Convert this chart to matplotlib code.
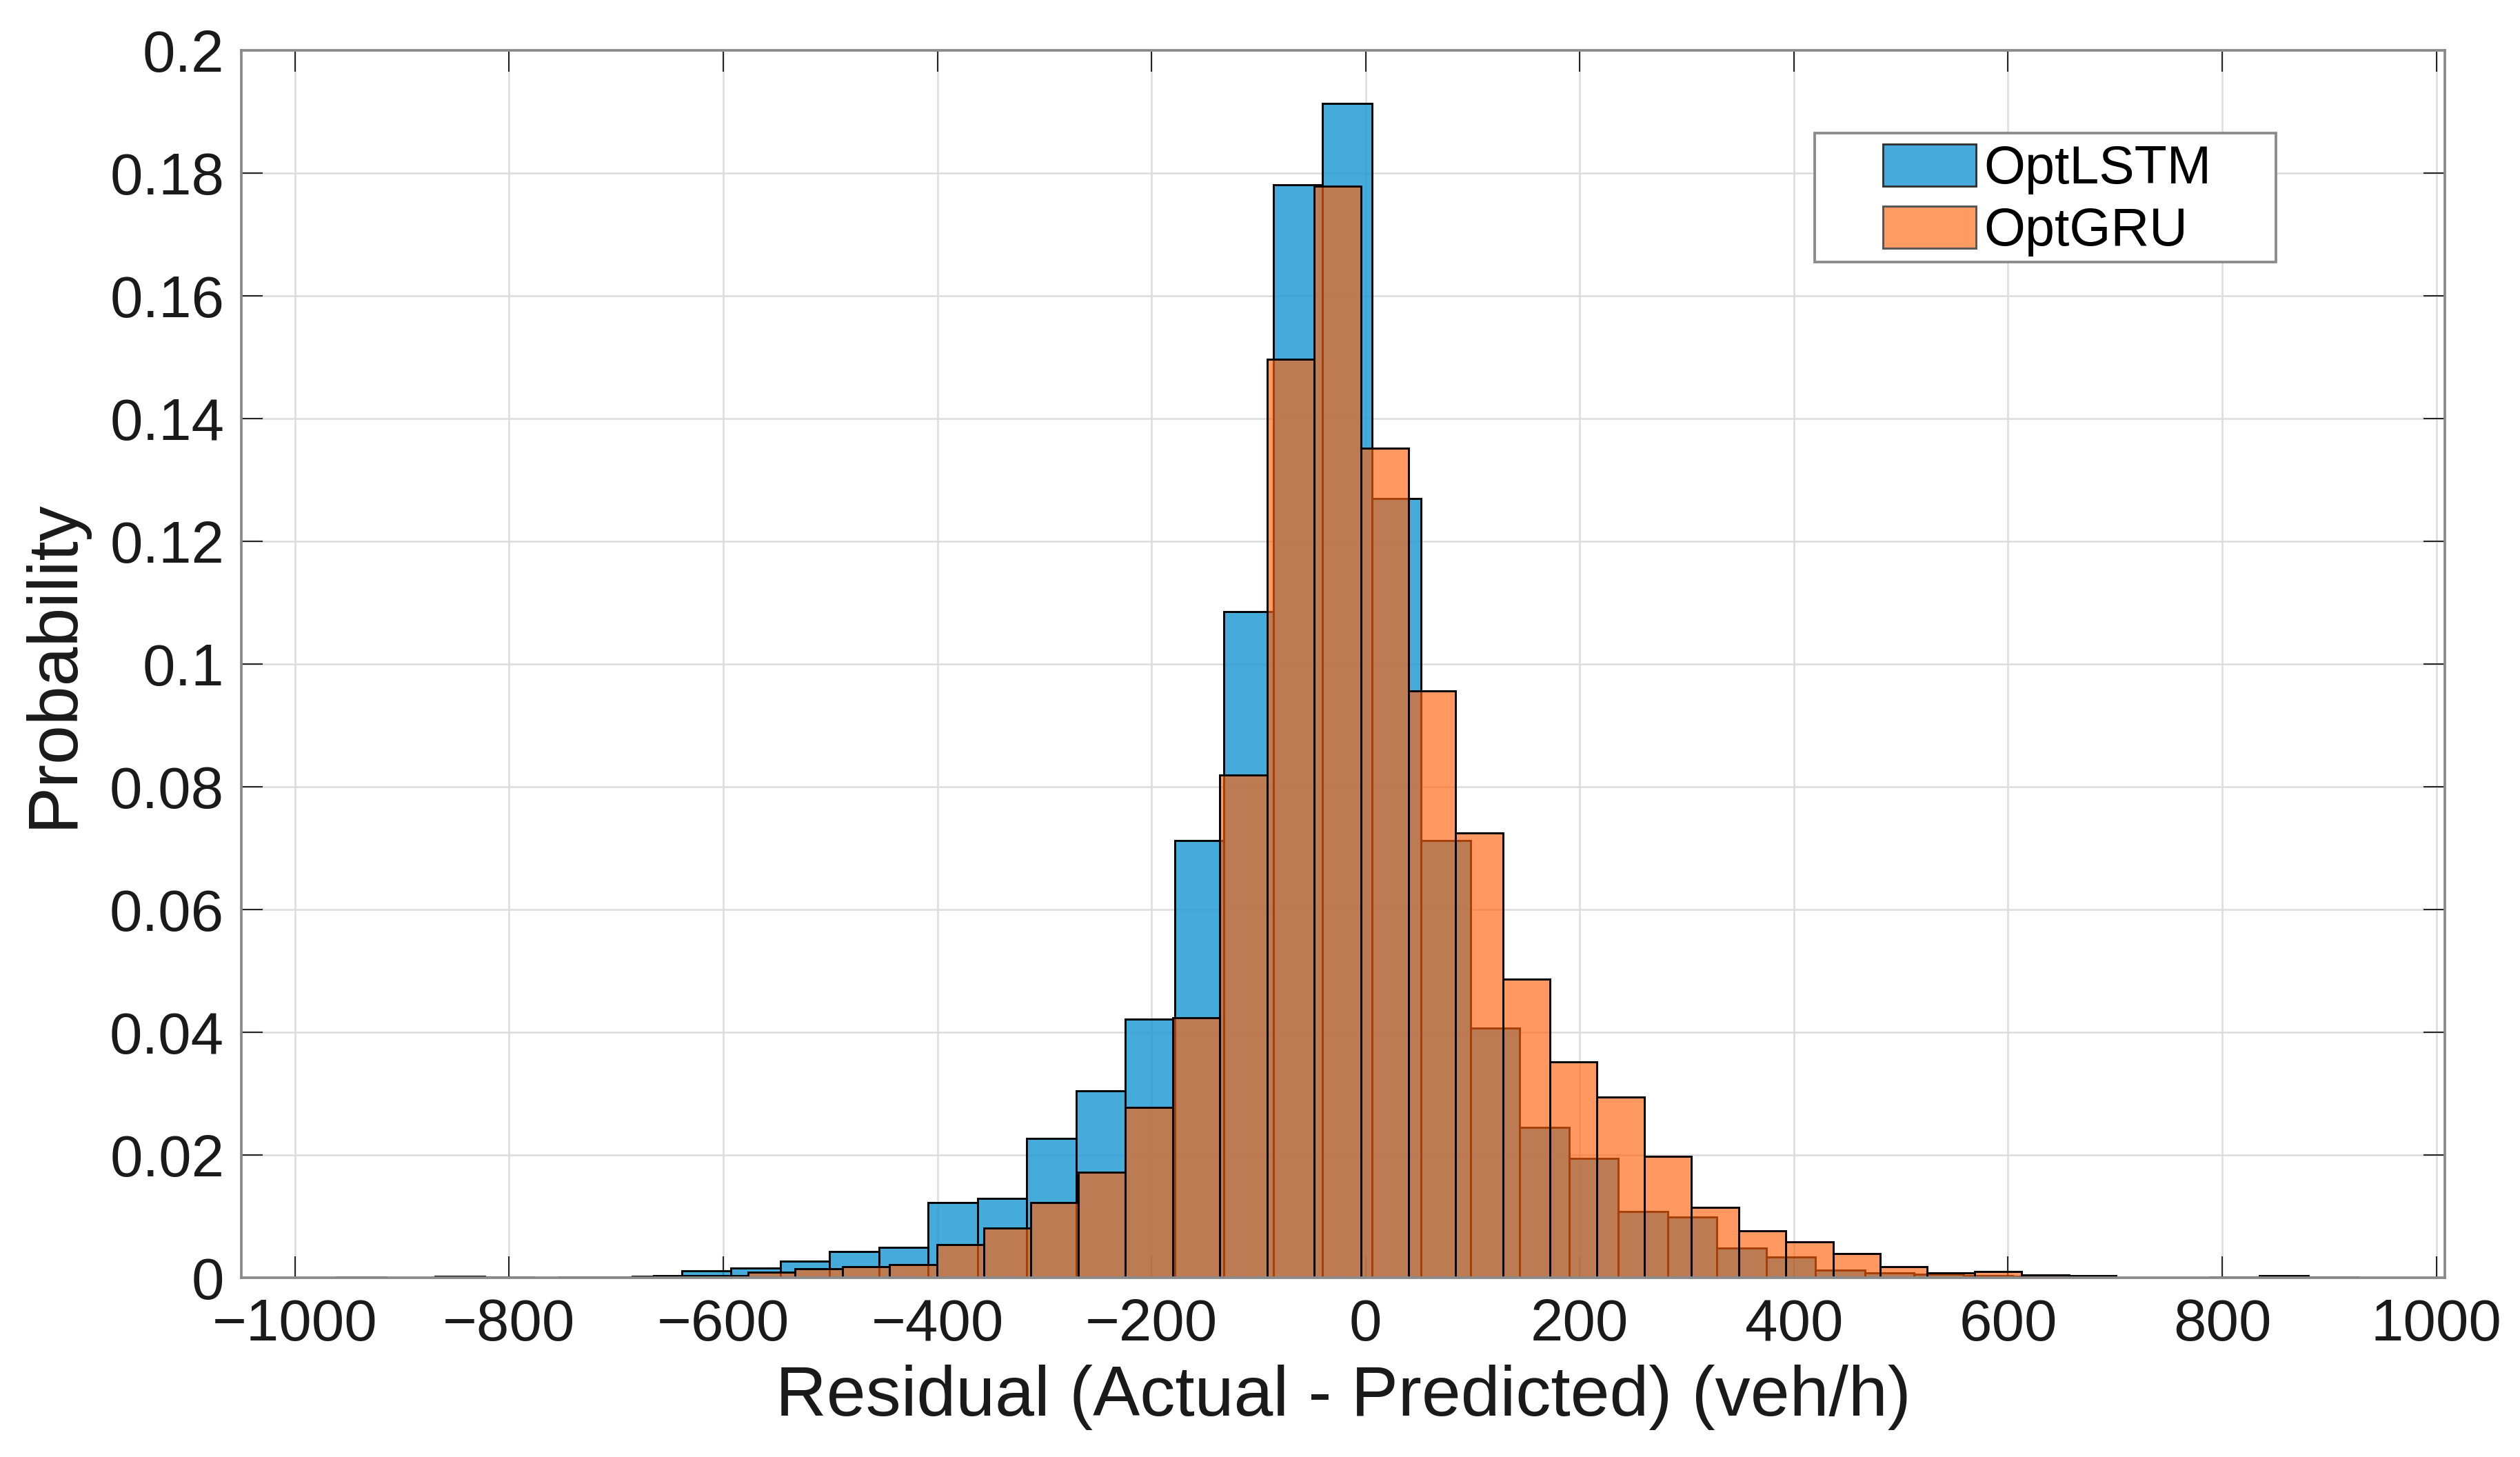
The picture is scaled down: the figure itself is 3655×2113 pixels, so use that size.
import numpy as np
import matplotlib
matplotlib.use("Agg")
import matplotlib.pyplot as plt
from matplotlib.patches import Patch, Rectangle

# ---------------- data ----------------
lstm_edges = [-961.0, -915.0, -868.9, -822.9, -776.8, -730.8, -684.8, -638.7, -592.7,
              -546.6, -500.6, -454.6, -408.5, -362.5, -316.4, -270.4, -224.4, -178.3,
              -132.3, -86.2, -40.2, 5.8, 51.9, 97.9, 143.9, 190.0, 236.0, 282.1, 328.1,
              374.2, 420.2, 466.2, 512.3, 558.3, 604.4, 650.4, 696.4, 742.5, 788.5,
              834.6, 880.6, 926.6]
lstm_prob = [0.0001, 0.0, 0.0002, 0.0001, 0.0, 0.0, 0.0002, 0.0011, 0.0016,
             0.0027, 0.0043, 0.0050, 0.0122, 0.0129, 0.0227, 0.0305, 0.0421, 0.0712,
             0.1085, 0.1781, 0.1913, 0.1269, 0.0712, 0.0407, 0.0245, 0.0195, 0.0108,
             0.0099, 0.0048, 0.0034, 0.0013, 0.0008, 0.0006, 0.0004, 0.0002, 0.0002,
             0.0, 0.0, 0.0001, 0.0003, 0.0001]

gru_edges = [-753.1, -709.0, -665.0, -620.9, -576.9, -532.8, -488.8, -444.7, -400.6,
             -356.6, -312.5, -268.5, -224.4, -180.3, -136.3, -92.2, -48.2, -4.1, 40.0,
             84.0, 128.1, 172.1, 216.2, 260.3, 304.3, 348.4, 392.4, 436.5, 480.5,
             524.6, 568.7, 612.7, 656.8, 700.8]
gru_prob = [0.0001, 0.0001, 0.0003, 0.0004, 0.0009, 0.0015, 0.0018, 0.0021, 0.0054,
            0.0081, 0.0123, 0.0172, 0.0278, 0.0424, 0.0819, 0.1496, 0.1778, 0.1351,
            0.0956, 0.0725, 0.0487, 0.0352, 0.0294, 0.0198, 0.0115, 0.0076, 0.0059,
            0.0039, 0.0018, 0.0008, 0.0010, 0.00045, 0.0004]

series_names = ["OptLSTM", "OptGRU"]
xticks = [-1000, -800, -600, -400, -200, 0, 200, 400, 600, 800, 1000]
yticks = [0, 0.02, 0.04, 0.06, 0.08, 0.1, 0.12, 0.14, 0.16, 0.18, 0.2]
ytick_labels = ["0", "0.02", "0.04", "0.06", "0.08", "0.1", "0.12", "0.14", "0.16", "0.18", "0.2"]

# ---------------- style ----------------
plt.rcParams['font.family'] = ['Liberation Sans', 'DejaVu Sans']
blue_face = (36/255, 156/255, 213/255, 0.85)
orange_face = (255/255, 98/255, 12/255, 0.65)

fig = plt.figure(figsize=(3655/300, 2113/300), dpi=300)
ax = fig.add_axes([0.0958, 0.1230, 0.9702 - 0.0958, 0.9656 - 0.1230])

def draw(edges, probs, face, label):
    e = np.asarray(edges)
    left = e[:-1]
    width = np.diff(e)
    return ax.bar(left, probs, width=width, align='edge', color=face,
                  edgecolor='black', linewidth=0.7, label=label, zorder=2)

draw(lstm_edges, lstm_prob, blue_face, series_names[0])
draw(gru_edges, gru_prob, orange_face, series_names[1])

ax.set_xlim(-1050, 1008)
ax.set_ylim(0, 0.2)
ax.set_xticks(xticks)
ax.set_xticklabels([("\u2212" + str(-t)) if t < 0 else str(t) for t in xticks])
ax.set_yticks(yticks)
ax.set_yticklabels(ytick_labels)

ax.set_axisbelow(True)
ax.grid(True, color='#dcdcdc', linewidth=0.6)
for s in ax.spines.values():
    s.set_color('#8a8a8a')
    s.set_linewidth(0.9)
    s.set_zorder(5)
ax.tick_params(direction='in', top=True, right=True, length=7.5, width=0.5,
               color='#262626', labelsize=20.5, pad=6, labelcolor='#1a1a1a')
ax.tick_params(axis='x', pad=7)

ax.set_xlabel("Residual (Actual - Predicted) (veh/h)", fontsize=24.5, color='#1a1a1a', labelpad=4)
ax.set_ylabel("Probability", fontsize=24.5, color='#1a1a1a', labelpad=8)

# legend frame (drawn separately to get MATLAB-like wide side padding)
frame = Rectangle((0.714, 0.8273), 0.9234 - 0.714, 0.9324 - 0.8273, transform=ax.transAxes,
                  facecolor='white', edgecolor='#8a8a8a', linewidth=0.9, zorder=9)
ax.add_patch(frame)

handles = [Patch(facecolor=(69/255, 171/255, 219/255), edgecolor='#333333', linewidth=0.7),
           Patch(facecolor=(255/255, 154/255, 98/255), edgecolor='#555555', linewidth=0.7)]
leg = ax.legend(handles, series_names, loc='upper left',
                bbox_to_anchor=(0.745, 0.9235),
                fontsize=18.5, frameon=False,
                handlelength=1.75, handleheight=0.84, handletextpad=0.15,
                borderpad=0.0, labelspacing=0.22, borderaxespad=0.0)
leg.set_zorder(10)

fig.savefig("out.png", dpi=300, facecolor='white')
